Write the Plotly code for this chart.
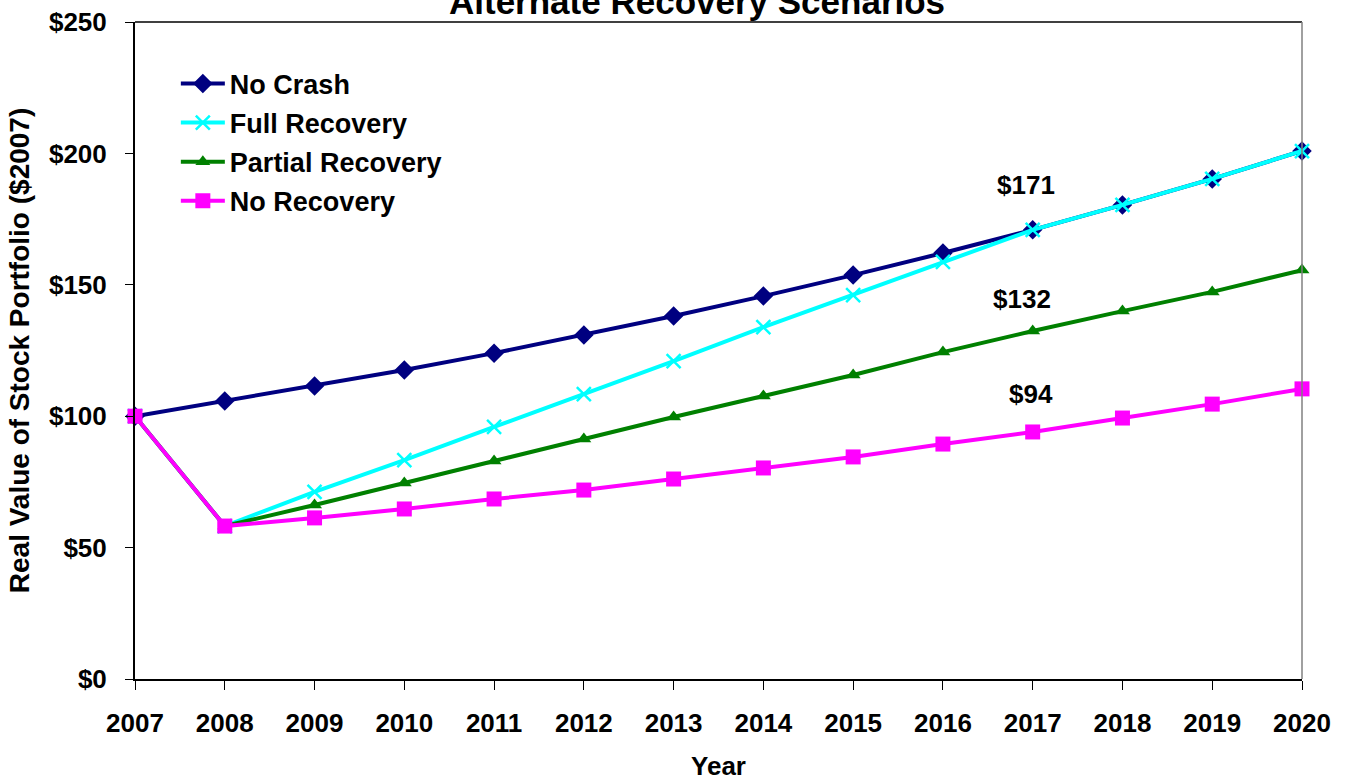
import plotly.graph_objects as go

years = list(range(2007, 2021))
no_crash = [100, 105.8, 111.5, 117.6, 124.0, 130.9, 138.1, 145.7, 153.7, 162.1, 170.9, 180.4, 190.3, 200.9]
full_recovery = [100, 58.2, 71.2, 83.3, 95.9, 108.4, 121.0, 133.9, 146.1, 158.7, 170.9, 180.4, 190.3, 200.9]
partial_recovery = [100, 58.2, 66.2, 74.6, 83.0, 91.3, 99.7, 107.7, 115.7, 124.4, 132.4, 140.0, 147.3, 155.6]
no_recovery = [100, 58.2, 61.3, 64.7, 68.5, 71.9, 76.1, 80.3, 84.5, 89.4, 94.0, 99.3, 104.6, 110.4]

series_names = ["No Crash", "Full Recovery", "Partial Recovery", "No Recovery"]
series_values = [no_crash, full_recovery, partial_recovery, no_recovery]
colors = ["#000080", "#00FFFF", "#008000", "#FF00FF"]
symbols = ["diamond", "x-thin", "triangle-up", "square"]
sizes = [15, 14, 13, 15]

label_texts = ["$171", "$132", "$94"]
label_x = [2016.93, 2016.88, 2016.98]
label_y = [188.0, 144.5, 108.4]

y_tick_vals = [0, 50, 100, 150, 200, 250]

font_family = "Liberation Sans, Arial, sans-serif"
FS = 26

fig = go.Figure()
for i, (name, vals) in enumerate(zip(series_names, series_values)):
    marker = dict(symbol=symbols[i], size=sizes[i], color=colors[i])
    if symbols[i] == "x-thin":
        marker["line"] = dict(color=colors[i], width=2.5)
    fig.add_trace(go.Scatter(
        x=years, y=vals, name="<b>" + name + "</b>", mode="lines+markers",
        line=dict(color=colors[i], width=4),
        marker=marker, cliponaxis=False, legendgroup=name,
    ))

for xx, yy, t in zip(label_x, label_y, label_texts):
    fig.add_annotation(x=xx, y=yy, text="<b>" + t + "</b>", showarrow=False,
                       font=dict(size=FS, color="black", family=font_family))

fig.add_annotation(xref="paper", yref="paper", x=0.482, y=1.0312, yanchor="middle",
                   text="<b>Alternate Recovery Scenarios</b>", showarrow=False,
                   font=dict(size=35, color="black", family=font_family))

# top and right frame lines
fig.add_shape(type="line", xref="paper", yref="paper", x0=0, x1=1, y0=1, y1=1,
              line=dict(color="black", width=1.5))
fig.add_shape(type="line", xref="paper", yref="paper", x0=1, x1=1, y0=0, y1=1,
              line=dict(color="#808080", width=1.5))

fig.update_layout(
    width=1348, height=781,
    margin=dict(l=135, r=46, t=22, b=102, autoexpand=False),
    paper_bgcolor="white", plot_bgcolor="white",
    font=dict(family=font_family, color="black", size=FS),
    showlegend=True,
    legend=dict(x=0.035, y=0.943, xanchor="left", yanchor="top",
                font=dict(size=27, family=font_family, color="black"),
                bgcolor="rgba(0,0,0,0)", tracegroupgap=1, itemwidth=44),
    xaxis=dict(
        range=[2007, 2020], tickmode="array", tickvals=years,
        ticktext=["<b>%d</b>" % y for y in years],
        showgrid=False, zeroline=False, showline=True, linecolor="black", linewidth=2,
        ticks="outside", ticklen=9, tickcolor="black", tickwidth=1,
        ticklabelstandoff=11, automargin=False,
        tickfont=dict(size=FS, family=font_family, color="black"),
        title=dict(text="<b>Year</b>", font=dict(size=FS, family=font_family, color="black"), standoff=20),
    ),
    yaxis=dict(
        range=[0, 250], tickmode="array", tickvals=y_tick_vals,
        ticktext=["<b>$%d</b>" % v for v in y_tick_vals],
        showgrid=False, zeroline=False, showline=True, linecolor="black", linewidth=2,
        ticks="outside", ticklen=8, tickcolor="black", tickwidth=1,
        ticklabelstandoff=13, automargin=False,
        tickfont=dict(size=FS, family=font_family, color="black"),
        title=dict(text="<b>Real Value of Stock Portfolio ($2007)</b>",
                   font=dict(size=28, family=font_family, color="black"), standoff=11),
    ),
)

fig.write_html("out.html", config={"displayModeBar": False},
               post_script="document.body.style.margin='0';document.body.style.overflow='hidden';")
